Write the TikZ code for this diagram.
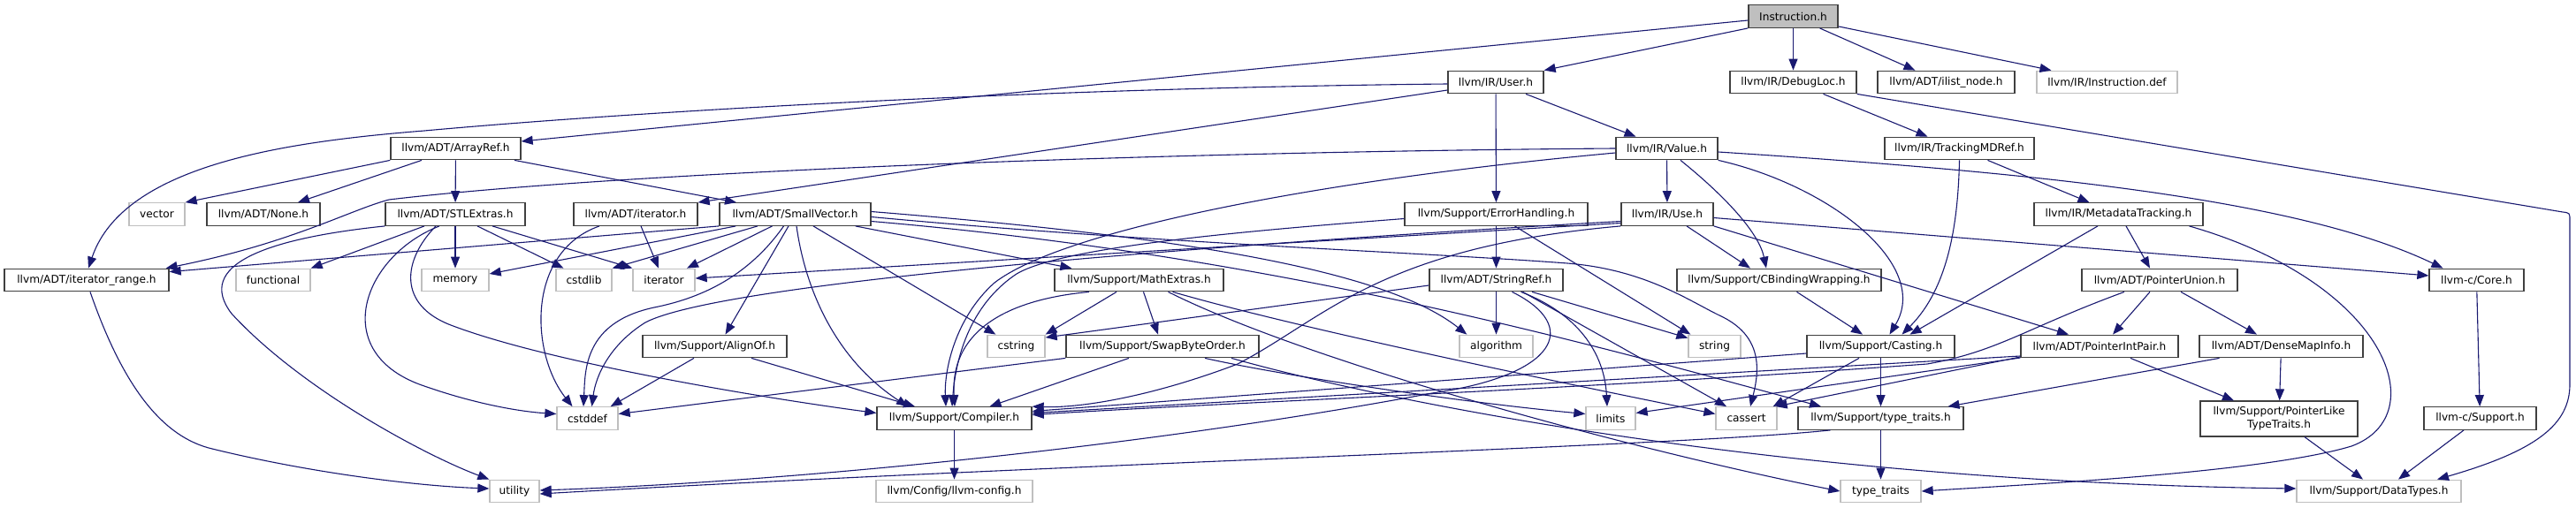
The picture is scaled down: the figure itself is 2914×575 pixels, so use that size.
\documentclass[tikz,border=0pt]{standalone}
\usepackage{fontspec}
\setmainfont{DejaVu Sans}
\usetikzlibrary{arrows.meta}
\definecolor{edgecol}{HTML}{191970}
\definecolor{boxcol}{HTML}{404040}
\definecolor{extcol}{HTML}{BFBFBF}
\begin{document}
\begin{tikzpicture}[x=1pt,y=-1pt,
 box/.style={draw=boxcol, line width=1.3pt, fill=white, inner sep=0pt, minimum height=25.5pt,
   font=\fontsize{12.15pt}{15pt}\selectfont, text=black, align=center},
 ext/.style={box, draw=extcol},
 edge/.style={draw=edgecol, line width=1.1pt, -{Triangle[length=13pt,width=10pt]}},
]
\useasboundingbox (0,0) rectangle (2914,575);
% row 1
\node[box, fill=extcol, minimum width=101pt] (inst) at (2028.5,18.5) {Instruction.h};
% row 2
\node[box, minimum width=108pt] (user) at (1692,93) {llvm/IR/User.h};
\node[box, minimum width=143pt] (debugloc) at (2028.5,93) {llvm/IR/DebugLoc.h};
\node[box, minimum width=155pt] (ilist) at (2201.5,93) {llvm/ADT/ilist\_node.h};
\node[ext, minimum width=159pt] (idef) at (2383.5,93) {llvm/IR/Instruction.def};
% row 3
\node[box, minimum width=147pt] (arrayref) at (515.5,168) {llvm/ADT/ArrayRef.h};
\node[box, minimum width=115pt] (value) at (1885.5,168) {llvm/IR/Value.h};
\node[box, minimum width=169pt] (tracking) at (2216.5,168) {llvm/IR/TrackingMDRef.h};
% row 4
\node[ext, minimum width=63pt] (vector) at (177.5,242.5) {vector};
\node[box, minimum width=128pt] (none) at (298,242.5) {llvm/ADT/None.h};
\node[box, minimum width=158pt] (stlextras) at (515,242.5) {llvm/ADT/STLExtras.h};
\node[box, minimum width=140pt] (iteratorh) at (719,242.5) {llvm/ADT/iterator.h};
\node[box, minimum width=171pt] (smallvector) at (899.5,242.5) {llvm/ADT/SmallVector.h};
\node[box, minimum width=207pt] (errorh) at (1692.5,242.5) {llvm/Support/ErrorHandling.h};
\node[box, minimum width=104pt] (use) at (1886,242.5) {llvm/IR/Use.h};
\node[box, minimum width=191pt] (metadata) at (2396.5,242.5) {llvm/IR/MetadataTracking.h};
% row 5
\node[box, minimum width=186pt] (iterrange) at (98,317) {llvm/ADT/iterator\_range.h};
\node[ext, minimum width=84pt] (functional) at (309,317) {functional};
\node[ext, minimum width=76pt] (memory) at (515,317) {memory};
\node[ext, minimum width=63pt] (cstdlib) at (660.5,317) {cstdlib};
\node[ext, minimum width=70pt] (iterator) at (751,317) {iterator};
\node[box, minimum width=191pt] (mathextras) at (1288.5,317) {llvm/Support/MathExtras.h};
\node[box, minimum width=151pt] (stringref) at (1692.5,317) {llvm/ADT/StringRef.h};
\node[box, minimum width=231pt] (cbinding) at (2012.5,317) {llvm/Support/CBindingWrapping.h};
\node[box, minimum width=176pt] (pointerunion) at (2443,317) {llvm/ADT/PointerUnion.h};
\node[box, minimum width=107pt] (core) at (2801.5,317) {llvm-c/Core.h};
% row 6
\node[box, minimum width=163pt] (alignof) at (808.5,392) {llvm/Support/AlignOf.h};
\node[ext, minimum width=65pt] (cstring) at (1149.5,392) {cstring};
\node[box, minimum width=218pt] (swapbyte) at (1315,392) {llvm/Support/SwapByteOrder.h};
\node[ext, minimum width=83pt] (algorithm) at (1692.5,392) {algorithm};
\node[ext, minimum width=59pt] (string) at (1939.5,392) {string};
\node[box, minimum width=167pt] (casting) at (2127.5,392) {llvm/Support/Casting.h};
\node[box, minimum width=178pt] (pointerintpair) at (2375,392) {llvm/ADT/PointerIntPair.h};
\node[box, minimum width=185pt] (densemap) at (2580.5,392) {llvm/ADT/DenseMapInfo.h};
% row 7
\node[ext, minimum width=69pt] (cstddef) at (664.5,473.5) {cstddef};
\node[box, minimum width=175pt] (compiler) at (1079.5,473.5) {llvm/Support/Compiler.h};
\node[ext, minimum width=56pt] (limits) at (1822,473.5) {limits};
\node[ext, minimum width=69pt] (cassert) at (1975.5,473.5) {cassert};
\node[box, minimum width=187pt] (typetraitsh) at (2127.5,473.5) {llvm/Support/type\_traits.h};
\node[box, minimum width=178pt, minimum height=40pt] (plt) at (2578,474) {llvm/Support/PointerLike\\TypeTraits.h};
\node[box, minimum width=127pt] (csupport) at (2805.5,473.5) {llvm-c/Support.h};
% row 8
\node[ext, minimum width=56pt] (utility) at (582,556) {utility};
\node[ext, minimum width=177pt] (llvmconfig) at (1079.5,556) {llvm/Config/llvm-config.h};
\node[ext, minimum width=91pt] (typetraits) at (2127.5,556) {type\_traits};
\node[ext, minimum width=186pt] (datatypes) at (2691,556) {llvm/Support/DataTypes.h};

% Instruction.h
\draw[edge] ([yshift=-4.5pt]inst.west) -- ([yshift=8pt]arrayref.east);
\draw[edge] (inst.south west) -- (user.north east);
\draw[edge] (inst) -- (debugloc);
\draw[edge] ([xshift=30pt]inst.south) -- ([xshift=-35pt]ilist.north);
\draw[edge] ([yshift=2pt]inst.south east) -- ([xshift=-63pt]idef.north);
% User.h
\draw[edge] ([yshift=-2pt]user.west) .. controls (1150,100) and (700,128) .. (480,148) .. controls (330,160) and (140,185) .. ([xshift=2pt]iterrange.north);
\draw[edge] ([yshift=-9pt]user.west) -- (iteratorh.north east);
\draw[edge] (user) -- (errorh);
\draw[edge] ([xshift=34pt]user.south) -- ([xshift=-35pt]value.north);
% DebugLoc.h
\draw[edge] ([xshift=34pt]debugloc.south) -- ([xshift=-36pt]tracking.north);
\draw[edge] (debugloc.south east) -- (2899,240) .. controls (2907,241) .. (2907,250) -- (2907,435) .. controls (2907,480) and (2870,510) .. ([xshift=66pt]datatypes.north);
% ArrayRef.h
\draw[edge] (arrayref.south west) -- (vector.north east);
\draw[edge] ([xshift=-38.5pt]arrayref.south) -- ([xshift=39pt]none.north);
\draw[edge] (arrayref) -- (stlextras);
\draw[edge] ([xshift=66.5pt]arrayref.south) -- ([xshift=-66.5pt]smallvector.north);
% Value.h
\draw[edge] (value.west) .. controls (1300,172) and (700,195) .. (440,226) .. controls (395,238) and (330,275) .. ([xshift=-4pt]iterrange.north east);
\draw[edge] ([yshift=-5pt]value.west) .. controls (1480,205) and (1200,262) .. (1125,320) .. controls (1080,360) and (1068,420) .. ([xshift=-9.5pt]compiler.north);
\draw[edge] (value) -- (use);
\draw[edge] ([xshift=15.5pt]value.south) .. controls (1955,225) and (1990,265) .. ([xshift=-14.5pt]cbinding.north);
\draw[edge] (value.south east) .. controls (2070,210) and (2185,300) .. ([xshift=10pt]casting.north);
\draw[edge] ([yshift=-4pt]value.east) .. controls (2300,195) and (2600,225) .. ([xshift=-38pt]core.north);
% TrackingMDRef.h
\draw[edge] ([xshift=32pt]tracking.south) -- ([xshift=-33pt]metadata.north);
\draw[edge] (tracking.south) .. controls (2215,250) and (2205,325) .. ([xshift=24pt]casting.north);
% MetadataTracking.h
\draw[edge] ([xshift=-23.5pt]metadata.south) -- ([xshift=33pt]casting.north);
\draw[edge] ([xshift=8.5pt]metadata.south) -- ([xshift=-11pt]pointerunion.north);
\draw[edge] ([xshift=80pt]metadata.south) .. controls (2700,320) and (2755,470) .. (2660,505) .. controls (2560,535) and (2300,548) .. (typetraits.east);
% STLExtras.h
\draw[edge] ([xshift=-35pt]stlextras.south) -- (functional.north east);
\draw[edge] (stlextras) -- (memory);
\draw[edge] ([xshift=25pt]stlextras.south) -- ([xshift=-23pt]cstdlib.north);
\draw[edge] ([xshift=42pt]stlextras.south) -- (iterator.north west);
\draw[edge] ([xshift=-18pt]stlextras.south) .. controls (410,290) and (370,400) .. (480,437) .. controls (540,458) and (590,466) .. ([yshift=5pt]cstddef.west);
\draw[edge] ([xshift=-22pt]stlextras.south) .. controls (455,295) and (450,345) .. (510,368) .. controls (620,410) and (860,450) .. ([yshift=6pt]compiler.west);
\draw[edge] (stlextras.south west) .. controls (300,270) and (220,300) .. (262,355) .. controls (340,440) and (480,515) .. (utility.north west);
% iterator.h
\draw[edge] ([xshift=6pt]iteratorh.south) -- ([xshift=-6pt]iterator.north);
\draw[edge] ([xshift=-41pt]iteratorh.south) .. controls (595,285) and (600,400) .. ([xshift=-17pt]cstddef.north);
% SmallVector.h
\draw[edge] (smallvector.south west) -- ([yshift=-4pt]iterrange.north east);
\draw[edge] ([xshift=19pt]smallvector.south west) -- ([yshift=7pt]memory.east);
\draw[edge] ([xshift=-42.5pt]smallvector.south) -- (cstdlib.north east);
\draw[edge] ([xshift=-26pt]smallvector.south) -- ([xshift=26pt]iterator.north);
\draw[edge] ([xshift=-13pt]smallvector.south) .. controls (845,315) and (790,338) .. (740,348) .. controls (660,365) and (662,420) .. ([xshift=-4.5pt]cstddef.north);
\draw[edge] ([xshift=-7.5pt]smallvector.south) -- ([xshift=12pt]alignof.north);
\draw[edge] ([xshift=1.5pt]smallvector.south) .. controls (912,335) and (950,410) .. ([xshift=-52.5pt]compiler.north);
\draw[edge] ([xshift=20.5pt]smallvector.south) -- ([xshift=10pt]cstring.north west);
\draw[edge] ([xshift=-18pt]smallvector.south east) -- ([xshift=20pt]mathextras.north west);
\draw[edge] ([yshift=3pt]smallvector.east) .. controls (1300,265) and (1560,300) .. ([xshift=9pt]algorithm.north west);
\draw[edge] ([yshift=-3pt]smallvector.east) .. controls (1300,275) and (1600,285) .. (1773,298) .. controls (1860,305) and (1910,340) .. (1945,357) .. controls (1995,380) and (1990,420) .. ([xshift=4.5pt]cassert.north);
\draw[edge] ([yshift=-8pt]smallvector.east) .. controls (1450,290) and (1800,390) .. ([xshift=-67.5pt]typetraitsh.north);
% ErrorHandling.h
\draw[edge] (errorh) -- (stringref);
\draw[edge] ([yshift=-5pt]errorh.west) .. controls (1400,262) and (1200,280) .. (1150,310) .. controls (1090,350) and (1080,420) .. ([xshift=-2.5pt]compiler.north);
\draw[edge] ([xshift=21pt]errorh.south) -- ([xshift=3pt]string.north west);
% Use.h
\draw[edge] (use.south east) -- ([xshift=-35pt]pointerintpair.north);
\draw[edge] ([xshift=22pt]use.south) -- ([xshift=-32.5pt]cbinding.north);
\draw[edge] ([yshift=-10pt]use.west) -- ([yshift=2pt]iterator.east);
\draw[edge] ([yshift=-8pt]use.west) .. controls (1400,275) and (820,318) .. (730,365) .. controls (690,390) and (674,425) .. ([xshift=5pt]cstddef.north);
\draw[edge] (use.south west) .. controls (1560,280) and (1500,360) .. (1400,412) .. controls (1300,450) and (1220,462) .. (compiler.north east);
\draw[edge] ([yshift=-4pt]use.east) -- ([yshift=5pt]core.west);
% AlignOf.h
\draw[edge] ([xshift=-23.5pt]alignof.south) -- ([xshift=-9pt]cstddef.north east);
\draw[edge] ([xshift=41.5pt]alignof.south) -- ([xshift=-44.5pt]compiler.north);
% MathExtras.h
\draw[edge] ([xshift=-56.5pt]mathextras.south) .. controls (1130,340) and (1075,380) .. ([xshift=0.5pt]compiler.north);
\draw[edge] ([xshift=-25.5pt]mathextras.south) -- (cstring.north east);
\draw[edge] ([xshift=5pt]mathextras.south) -- ([xshift=-5pt]swapbyte.north);
\draw[edge] ([xshift=38pt]mathextras.south) .. controls (1480,375) and (1800,440) .. ([yshift=5pt]cassert.west);
\draw[edge] ([xshift=33pt]mathextras.south) .. controls (1480,410) and (1850,510) .. (typetraits.west);
% StringRef.h
\draw[edge] (stringref) -- (algorithm);
\draw[edge] ([yshift=-6pt]stringref.west) -- ([yshift=10pt]cstring.east);
\draw[edge] ([xshift=18pt]stringref.south) .. controls (1790,370) and (1760,425) .. (1620,445) .. controls (1300,505) and (900,545) .. ([yshift=1pt]utility.east);
\draw[edge] ([xshift=28pt]stringref.south) .. controls (1785,355) and (1815,400) .. ([xshift=-4pt]limits.north);
\draw[edge] ([xshift=30pt]stringref.south) -- ([xshift=-22.5pt]cassert.north);
\draw[edge] ([xshift=40.5pt]stringref.south) -- ([yshift=-4pt]string.north west);
% CBindingWrapping.h
\draw[edge] ([xshift=20pt]cbinding.south) -- ([xshift=-20.5pt]casting.north);
% PointerUnion.h
\draw[edge] ([xshift=-11pt]pointerunion.south) -- ([xshift=15pt]pointerintpair.north);
\draw[edge] ([xshift=24pt]pointerunion.south) -- ([xshift=-27.5pt]densemap.north);
\draw[edge] ([xshift=-40pt]pointerunion.south) .. controls (2290,372) and (2260,398) .. (2180,412) .. controls (1800,440) and (1400,455) .. ([yshift=4pt]compiler.east);
% PointerIntPair.h
\draw[edge] ([yshift=-11pt]pointerintpair.west) -- ([yshift=6pt]compiler.east);
\draw[edge] ([yshift=-12pt]pointerintpair.west) -- ([xshift=-2pt]cassert.north east);
\draw[edge] ([yshift=-13pt]pointerintpair.west) -- ([yshift=6pt]limits.east);
\draw[edge] ([xshift=35pt]pointerintpair.south) -- ([xshift=-51pt]plt.north);
% DenseMapInfo.h
\draw[edge] (densemap) -- (plt);
\draw[edge] ([xshift=-70pt]densemap.south) -- ([xshift=76pt]typetraitsh.north);
% Casting.h
\draw[edge] (casting) -- (typetraitsh);
\draw[edge] ([xshift=-24.5pt]casting.south) -- ([xshift=-5pt]cassert.north east);
\draw[edge] ([yshift=-8pt]casting.west) -- ([yshift=8pt]compiler.east);
% SwapByteOrder.h
\draw[edge] (swapbyte.south west) -- ([yshift=5pt]cstddef.east);
\draw[edge] ([xshift=-38pt]swapbyte.south) -- ([xshift=40pt]compiler.north);
\draw[edge] ([xshift=48pt]swapbyte.south) .. controls (1450,425) and (1650,455) .. ([yshift=5pt]limits.west);
\draw[edge] ([xshift=78pt]swapbyte.south) .. controls (1550,450) and (2000,545) .. ([yshift=3pt]datatypes.west);
% remaining
\draw[edge] ([xshift=4pt]iterrange.south) .. controls (140,440) and (185,495) .. (240,508) .. controls (350,535) and (470,550) .. ([yshift=3pt]utility.west);
\draw[edge] (core) -- (csupport);
\draw[edge] ([xshift=-18.5pt]csupport.south) -- ([xshift=22pt]datatypes.north);
\draw[edge] ([xshift=29pt]plt.south) -- ([xshift=-18pt]datatypes.north);
\draw[edge] (compiler) -- (llvmconfig);
\draw[edge] (typetraitsh) -- (typetraits);
\draw[edge] ([xshift=-57pt]typetraitsh.south) .. controls (1900,505) and (1200,525) .. ([yshift=-3pt]utility.east);
\end{tikzpicture}
\end{document}
